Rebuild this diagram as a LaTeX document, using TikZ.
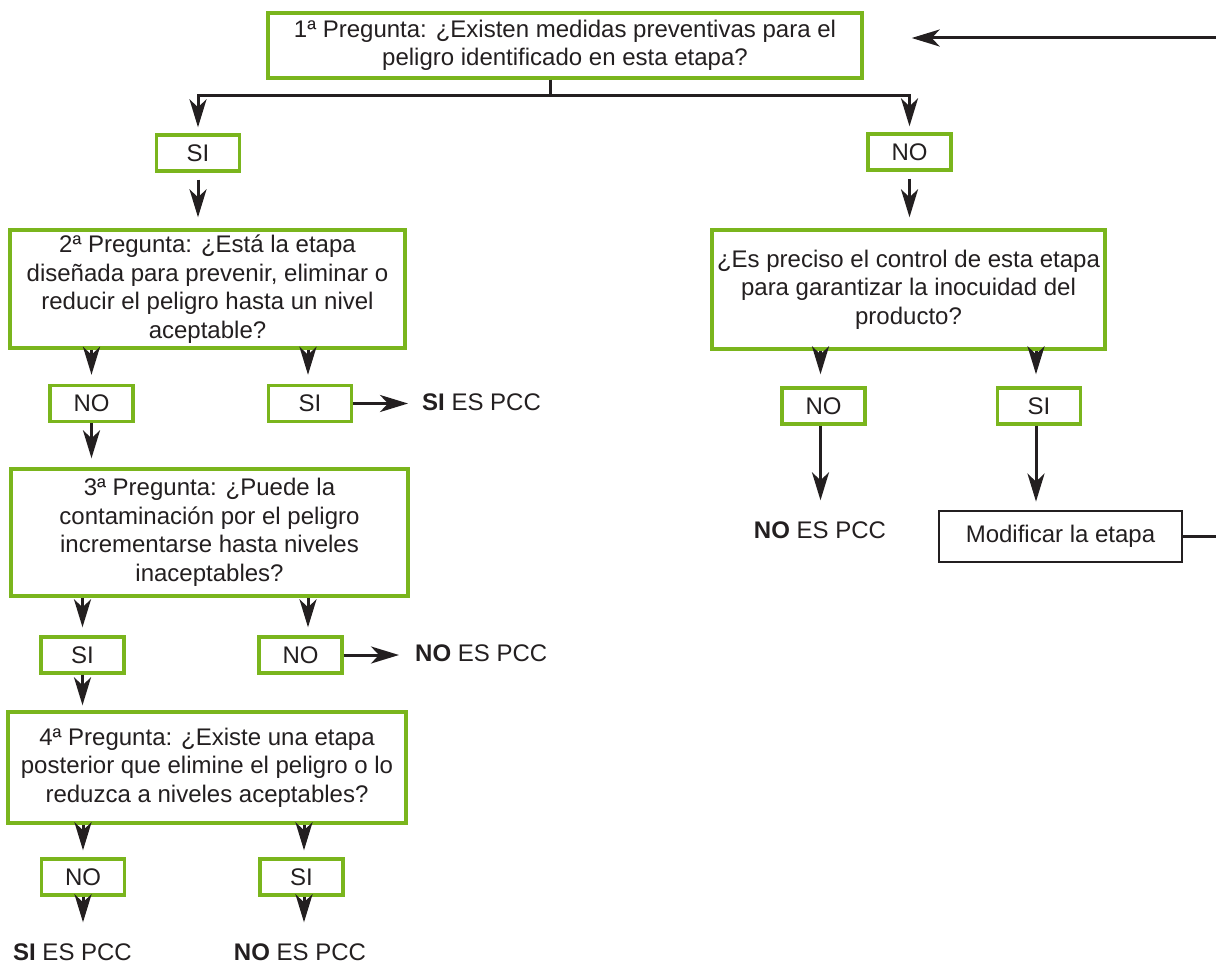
\documentclass[tikz,border=0pt]{standalone}
\usepackage{fontspec}
\setmainfont{Liberation Sans}
\usetikzlibrary{arrows.meta,calc}
\definecolor{grn}{HTML}{7AB51D}
\definecolor{ink}{HTML}{231F20}
\begin{document}
\begin{tikzpicture}[x=1pt,y=-1pt,
  every node/.style={text=ink, font=\fontsize{24}{28.5}\selectfont},
  gbox/.style={draw=grn, line width=3.4pt, fill=white, inner sep=0pt, align=center},
  small/.style={minimum width=83pt, minimum height=36pt},
  kbox/.style={draw=ink, line width=2.8pt, inner sep=0pt, align=center},
  lbl/.style={inner sep=0pt},
  ln/.style={draw=ink, line width=3pt},
  arr/.style={draw=ink, line width=3pt, -{Stealth[length=28pt,width=17pt,inset=8pt]}}]
\useasboundingbox (0,0) rectangle (1216,963);

% nodes
\node[gbox, minimum width=594pt, minimum height=65pt] (q1) at (565,45.5)
  {1ª Pregunta: ¿Existen medidas preventivas para el\\peligro identificado en esta etapa?};
\node[gbox, small] (si1) at (198,153) {SI};
\node[gbox, small] (no1) at (909.5,152) {NO};
\node[gbox, minimum width=395pt, minimum height=118pt] (q2) at (207.5,289)
  {2ª Pregunta: ¿Está la etapa\\diseñada para prevenir, eliminar o\\reducir el peligro hasta un nivel\\aceptable?};
\node[gbox, minimum width=393pt, minimum height=119pt] (qr) at (908.5,289.5)
  {¿Es preciso el control de esta etapa\\para garantizar la inocuidad del\\producto?};
\node[gbox, small] (no2) at (91.5,403.5) {NO};
\node[gbox, small] (si2) at (310,403.5) {SI};
\node[lbl, anchor=west] (r1) at (422,402) {\textbf{SI} ES PCC};
\node[gbox, small] (no3) at (823.5,406) {NO};
\node[gbox, small] (si3) at (1039,406) {SI};
\node[lbl] (r2) at (820,530) {\textbf{NO} ES PCC};
\node[kbox, minimum width=243pt, minimum height=51pt] (mod) at (1060.5,536.5) {Modificar la etapa};
\node[gbox, minimum width=397pt, minimum height=127pt] (q3) at (209.5,532.5)
  {3ª Pregunta: ¿Puede la\\contaminación por el peligro\\incrementarse hasta niveles\\inaceptables?};
\node[gbox, small] (si4) at (82.5,655) {SI};
\node[gbox, small] (no4) at (300.5,655) {NO};
\node[lbl, anchor=west] (r3) at (415,653) {\textbf{NO} ES PCC};
\node[gbox, minimum width=398pt, minimum height=111pt] (q4) at (207,767.5)
  {4ª Pregunta: ¿Existe una etapa\\posterior que elimine el peligro o lo\\reduzca a niveles aceptables?};
\node[gbox, small] (no5) at (83,877) {NO};
\node[gbox, small] (si5) at (301.5,877) {SI};
\node[lbl] (r4) at (72.5,952) {\textbf{SI} ES PCC};
\node[lbl] (r5) at (300,952) {\textbf{NO} ES PCC};

\coordinate (hub) at (550,96);
\coordinate (ret) at (1219,38);

% connectors
\draw[ln] ([xshift=-15pt]q1.south) -- (hub);
\draw[arr, shorten >=6pt] (hub) -| (si1.north);
\draw[arr, shorten >=6pt] (hub) -| (no1.north);
\draw[arr, shorten <=7pt, shorten >=11pt] (si1.south) -- (si1.south |- q2.north);
\draw[arr, shorten <=7pt, shorten >=11pt] (no1.south) -- (no1.south |- qr.north);
\draw[arr, shorten >=9pt] (no2.north |- q2.south) -- (no2.north);
\draw[arr, shorten >=9pt] ([xshift=-2pt]si2.north |- q2.south) -- ([xshift=-2pt]si2.north);
\draw[arr, shorten >=14pt] (si2.east) -- (si2.east -| r1.west);
\draw[arr, shorten >=12pt] ([xshift=-3pt]no3.north |- qr.south) -- ([xshift=-3pt]no3.north);
\draw[arr, shorten >=12pt] ([xshift=-3pt]si3.north |- qr.south) -- ([xshift=-3pt]si3.north);
\draw[arr, shorten >=21pt] ([xshift=-3pt]no3.south) -- ([xshift=-3pt]no3.south |- r2.north);
\draw[arr, shorten >=8pt] ([xshift=-3pt]si3.south) -- ([xshift=-3pt]si3.south |- mod.north);
\draw[arr, shorten >=48pt] (mod.east) -| (ret) -- ([yshift=7.5pt]q1.east);
\draw[arr, shorten >=9pt] (no2.south) -- (no2.south |- q3.north);
\draw[arr, shorten >=8pt] (si4.north |- q3.south) -- (si4.north);
\draw[arr, shorten >=8pt] ([xshift=7.5pt]no4.north |- q3.south) -- ([xshift=7.5pt]no4.north);
\draw[arr, shorten >=16pt] (no4.east) -- (no4.east -| r3.west);
\draw[arr, shorten >=5pt] (si4.south) -- (si4.south |- q4.north);
\draw[arr, shorten >=7pt] (no5.north |- q4.south) -- (no5.north);
\draw[arr, shorten >=7pt] ([xshift=2.5pt]si5.north |- q4.south) -- ([xshift=2.5pt]si5.north);
\draw[arr, shorten >=21pt] (no5.south) -- (no5.south |- r4.north);
\draw[arr, shorten >=21pt] ([xshift=2.5pt]si5.south) -- ([xshift=2.5pt]si5.south |- r5.north);
\end{tikzpicture}
\end{document}
